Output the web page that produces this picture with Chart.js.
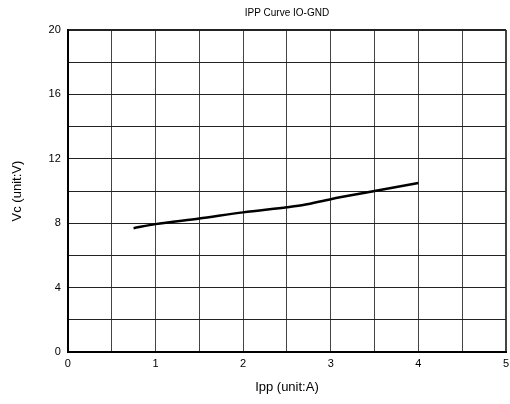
<!DOCTYPE html>
<html><head><meta charset="utf-8">
<script src="https://cdn.jsdelivr.net/npm/chart.js@4/dist/chart.umd.min.js"></script>
<style>html,body{margin:0;padding:0;background:#fff}#w{width:510px;height:404px}</style>
</head><body><div id="w"><canvas id="c" width="510" height="404"></canvas></div>
<script>
const titleText = "IPP Curve IO-GND";
const xTitle = "Ipp (unit:A)";
const yTitle = "Vc (unit:V)";
const ippValues = [0.75, 1.0, 1.5, 2.0, 2.5, 2.7, 3.0, 3.5, 4.0];
const vcValues  = [7.7, 7.95, 8.3, 8.68, 9.0, 9.15, 9.5, 10.0, 10.5];
const xTickLabels = [0, 1, 2, 3, 4, 5];
const yTickLabels = [0, 4, 8, 12, 16, 20];

const FONT = "'Liberation Sans', Arial, sans-serif";

const titlePlugin = {
  id: 'areaTitle',
  afterDraw(chart) {
    const ctx = chart.ctx, a = chart.chartArea;
    ctx.save();
    ctx.font = "10px " + FONT;
    ctx.fillStyle = "#000";
    ctx.textAlign = "center";
    ctx.textBaseline = "middle";
    ctx.fillText(titleText, (a.left + a.right) / 2, 13);
    ctx.restore();
  }
};

new Chart(document.getElementById('c'), {
  type: 'line',
  data: {
    datasets: [{
      data: ippValues.map((x, i) => ({x: x, y: vcValues[i]})),
      borderColor: '#000',
      borderWidth: 2.5,
      pointRadius: 0,
      tension: 0.3,
      fill: false
    }]
  },
  options: {
    responsive: false,
    animation: false,
    devicePixelRatio: 1,
    layout: { padding: { top: 30, right: 0, left: 10, bottom: 9 } },
    plugins: { legend: { display: false }, tooltip: { enabled: false } },
    scales: {
      x: {
        type: 'linear', min: 0, max: 5,
        afterFit: s => { s.paddingRight = 4; },
        ticks: {
          stepSize: 0.5, color: '#000', font: { family: FONT, size: 11 }, padding: 5,
          callback: v => xTickLabels.includes(v) ? String(v) : ''
        },
        grid: {
          color: '#444', drawTicks: false,
          lineWidth: c => (c.tick && c.tick.value === 5) ? 2 : 1
        },
        border: { display: true, color: '#000', width: 2 },
        title: { display: true, text: xTitle, color: '#000', font: { family: FONT, size: 13 }, padding: { top: 4, bottom: 0 } }
      },
      y: {
        type: 'linear', min: 0, max: 20,
        ticks: {
          stepSize: 2, color: '#000', font: { family: FONT, size: 11 }, padding: 7,
          callback: v => yTickLabels.includes(v) ? String(v) : ''
        },
        grid: {
          color: '#222', drawTicks: false,
          lineWidth: c => (c.tick && c.tick.value === 20) ? 2 : 1
        },
        border: { display: true, color: '#000', width: 2 },
        title: { display: true, text: yTitle, color: '#000', font: { family: FONT, size: 13 }, padding: { top: 0, bottom: 16 } }
      }
    }
  },
  plugins: [titlePlugin]
});
</script></body></html>
